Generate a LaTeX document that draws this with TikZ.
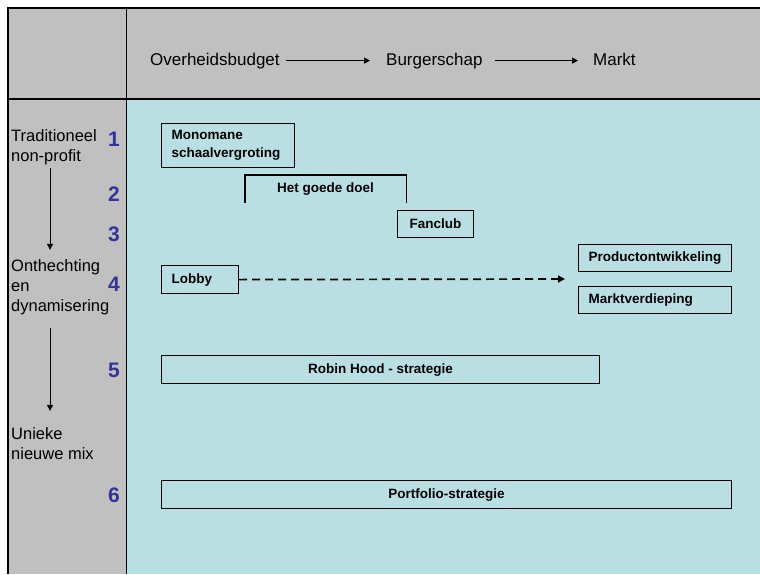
\documentclass[tikz,border=0pt]{standalone}
\usepackage{fontspec}
\setmainfont{Liberation Sans}
\usetikzlibrary{arrows.meta}
\definecolor{headgray}{HTML}{C0C0C0}
\definecolor{fieldblue}{HTML}{B9DFE3}
\definecolor{numblue}{HTML}{333399}
\begin{document}
\begin{tikzpicture}[x=1pt,y=-1pt,
  hdr/.style={inner sep=0pt,font=\fontsize{17}{20}\selectfont},
  phase/.style={inner sep=0pt,align=left,anchor=base west,font=\fontsize{16.5}{20}\selectfont},
  num/.style={inner sep=0pt,anchor=base east,text=numblue,font=\bfseries\fontsize{21}{24}\selectfont},
  lbox/.style={draw,line width=1.2pt,anchor=north west,inner xsep=10pt,inner ysep=0pt,align=left,font=\bfseries\fontsize{13.5}{18}\selectfont},
  cbox/.style={draw,line width=1.2pt,anchor=north west,inner sep=0pt,align=center,font=\bfseries\fontsize{13.5}{18}\selectfont},
  flow/.style={line width=1pt,-{Triangle[length=6pt,width=6pt]}},
  dasharr/.style={line width=1.7pt,dash pattern=on 8pt off 5pt,-{Triangle[length=7pt,width=7pt]}}]
\useasboundingbox (0,0) rectangle (760,574);

% background panels
\fill[headgray] (8,8) rectangle (760,574);
\fill[fieldblue] (127,99) rectangle (760,574);

% frame lines
\draw[line width=1.3pt] (8,574) -- (8,8) -- (760,8);
\draw[line width=2pt] (8,98.5) -- (760,98.5);
\draw[line width=1.2pt] (126.5,8) -- (126.5,574);

% header: from budget to market
\node[hdr,anchor=base west] (ob) at (150,65) {Overheidsbudget};
\node[hdr,anchor=base west] (bs) at (386,65) {Burgerschap};
\node[hdr,anchor=base west] (mk) at (593,65) {Markt};
\draw[flow,shorten <=6pt,shorten >=16pt] (ob.east) -- (bs.west);
\draw[flow,shorten <=12pt,shorten >=15pt] (bs.east) -- (bs.east -| mk.west);

% phases in the left column (anchored on the baseline of the last line)
\node[phase] (trad) at (11,161) {Traditioneel\\non-profit};
\node[phase] (onth) at (11,311) {Onthechting\\en\\dynamisering};
\node[phase] (uniek) at (11,459) {Unieke\\nieuwe mix};
\coordinate (axis) at (50,0);
\draw[flow,shorten <=3.5pt,shorten >=9pt] (axis |- trad.south) -- (axis |- onth.north);
\draw[flow,shorten <=13.5pt,shorten >=16pt] (axis |- onth.south) -- (axis |- uniek.north);

% strategy numbers
\node[num] (n1) at (120,146) {1};
\node[num] (n2) at (120,201.5) {2};
\node[num] (n3) at (120,241) {3};
\node[num] (n4) at (120,291.5) {4};
\node[num] (n5) at (120,377.5) {5};
\node[num] (n6) at (120,502.5) {6};

% strategies
\node[lbox,text width=113pt,minimum height=44pt] (mono) at (161,123) {Monomane\\schaalvergroting};
\node[cbox,draw=none,minimum width=160pt,minimum height=27pt] (doel) at (245,175) {Het goede doel};
\draw[line width=1.2pt] (doel.south west) -- (doel.north west) -- (doel.north east) -- (doel.south east);
\node[cbox,minimum width=76pt,minimum height=27pt] (fan) at (397,210) {Fanclub};
\node[lbox,text width=57pt,minimum height=28pt] (lobby) at (161,265) {Lobby};
\node[lbox,text width=133pt,minimum height=27pt] (prod) at (578,244) {Productontwikkeling};
\node[lbox,text width=133pt,minimum height=27pt] (mver) at (578,286) {Marktverdieping};
\coordinate (lobbyend) at (565,279);
\draw[dasharr] (lobby.east) -- (lobbyend);
\node[cbox,minimum width=438pt,minimum height=28pt] (robin) at (161,355) {Robin Hood - strategie};
\node[cbox,minimum width=570pt,minimum height=28pt] (port) at (161,480) {Portfolio-strategie};
\end{tikzpicture}
\end{document}
